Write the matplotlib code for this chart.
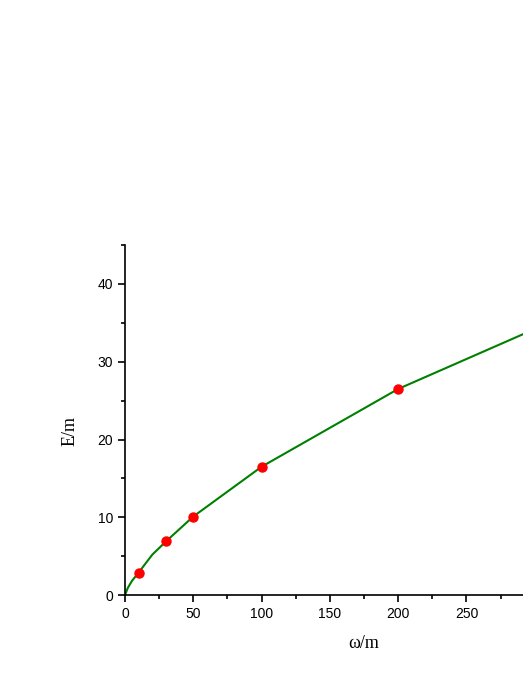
import matplotlib.pyplot as plt

# curve
curve_w = [0, 2, 5, 10, 20, 30, 50, 100, 200, 300, 350]
curve_e = [0, 0.9, 1.8, 2.9, 5.2, 6.9, 10.1, 16.5, 26.5, 34.2, 37.8]

# marked points
pts_w = [10, 30, 50, 100, 200]
pts_e = [2.9, 6.9, 10.1, 16.5, 26.5]

fig = plt.figure(figsize=(5.23, 6.77), dpi=100)
ax = fig.add_axes([0.239, 0.121, 0.914, 0.517])

ax.plot(curve_w, curve_e, color='#008000', lw=1.5, zorder=2)
ax.plot(pts_w, pts_e, 'o', color='red', ms=6.5, zorder=3)

ax.set_xlim(0, 350)
ax.set_ylim(0, 45)
ax.set_xticks([0, 50, 100, 150, 200, 250, 300, 350])
ax.set_xticks(range(25, 350, 50), minor=True)
ax.set_yticks([0, 10, 20, 30, 40])
ax.set_yticks([5, 15, 25, 35, 45], minor=True)

for s in ['top', 'right']:
    ax.spines[s].set_visible(False)
for s in ['left', 'bottom']:
    ax.spines[s].set_linewidth(1.2)

ax.tick_params(which='major', direction='out', length=5, width=1.2,
               labelsize=10)
ax.tick_params(which='minor', direction='out', length=3, width=1.2)
for lab in ax.get_xticklabels() + ax.get_yticklabels():
    lab.set_family('Liberation Sans')

ax.set_xlabel('ω/m', family='Liberation Serif', fontsize=13, labelpad=10)
ax.set_ylabel('E/m', family='Liberation Serif', fontsize=13, labelpad=14, y=0.47)

fig.savefig('out.png', dpi=100)
